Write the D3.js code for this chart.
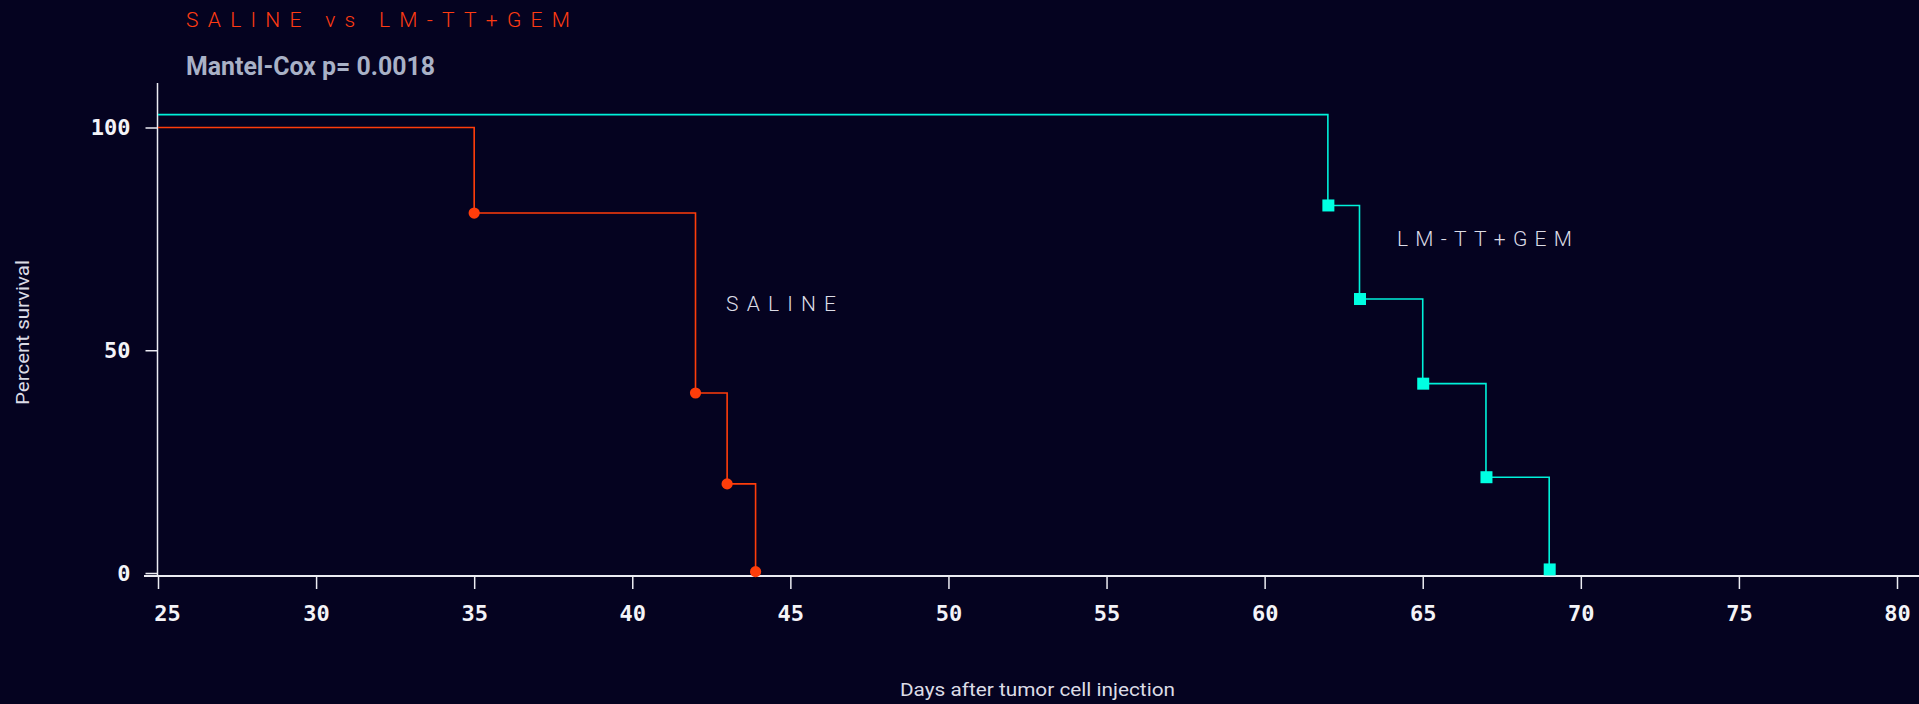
<!DOCTYPE html>
<html>
<head>
<meta charset="utf-8">
<script src="https://cdn.jsdelivr.net/npm/d3@7/dist/d3.min.js"></script>
<style>
  html, body { margin: 0; padding: 0; background: #050320; }
  svg { display: block; }
</style>
</head>
<body>
<svg id="chart" width="1919" height="704"></svg>
<script>
// ---- Data ----
const salineDays = [25, 35, 42, 43, 43.9];
const salineSurvival = [100, 80.8, 40.4, 20, 0.3];
const gemDays = [25, 62, 63, 65, 67, 69];
const gemSurvival = [102.9, 82.5, 61.5, 42.5, 21.5, 0.8];
const xTicks = [25, 30, 35, 40, 45, 50, 55, 60, 65, 70, 75, 80];
const yTicks = [0, 50, 100];
const titleText = "SALINE vs LM-TT+GEM";
const subtitleText = "Mantel-Cox p= 0.0018";
const salineLabel = "SALINE";
const gemLabel = "LM-TT+GEM";
const xTitle = "Days after tumor cell injection";
const yTitle = "Percent survival";

// ---- Styles ----
const bg = "#050320";
const red = "#ff3d0a";
const teal = "#00f2da";
const tealMarker = "#00ffe2";
const axisColor = "#ececf2";

const svg = d3.select("#chart");
svg.append("rect").attr("width", 1919).attr("height", 704).attr("fill", bg);

const x = d3.scaleLinear().domain([25, 80]).range([158, 1897]);
const y = d3.scaleLinear().domain([0, 100]).range([573, 127.5]);
const axisY = 576;

// Y axis
const yAxis = svg.append("g")
  .attr("transform", `translate(${x(25) - 0.5},0)`)
  .call(d3.axisLeft(y).tickValues(yTicks).tickSize(12).tickPadding(15).tickFormat(d3.format("d")));
yAxis.select(".domain").remove();
yAxis.selectAll(".tick line").attr("stroke", axisColor).attr("stroke-width", 1.5);
yAxis.selectAll(".tick text")
  .attr("fill", "#f4f4f8")
  .style("font-family", "'DejaVu Sans Mono', monospace")
  .style("font-weight", "bold")
  .style("font-size", "22px");
svg.append("line")
  .attr("x1", x(25) - 0.5).attr("x2", x(25) - 0.5)
  .attr("y1", 83).attr("y2", axisY)
  .attr("stroke", axisColor).attr("stroke-width", 1.5);

// X axis
const xAxis = svg.append("g")
  .attr("transform", `translate(0,${axisY})`)
  .call(d3.axisBottom(x).tickValues(xTicks).tickSize(13).tickPadding(16).tickFormat(d3.format("d")));
xAxis.select(".domain").remove();
xAxis.selectAll(".tick line").attr("stroke", axisColor).attr("stroke-width", 1.5);
xAxis.selectAll(".tick text")
  .attr("fill", "#f4f4f8")
  .style("font-family", "'DejaVu Sans Mono', monospace")
  .style("font-weight", "bold")
  .style("font-size", "22px")
  .attr("dx", (d, i) => i === 0 ? 9 : 0);
svg.append("line")
  .attr("x1", 144).attr("x2", 1919)
  .attr("y1", axisY).attr("y2", axisY)
  .attr("stroke", axisColor).attr("stroke-width", 2);

// Survival curves
const line = d3.line().x(d => x(d[0])).y(d => y(d[1])).curve(d3.curveStepAfter);
const salinePts = salineDays.map((d, i) => [d, salineSurvival[i]]);
const gemPts = gemDays.map((d, i) => [d, gemSurvival[i]]);

svg.append("path").datum(gemPts).attr("d", line)
  .attr("fill", "none").attr("stroke", teal).attr("stroke-width", 1.6);
svg.append("path").datum(salinePts).attr("d", line)
  .attr("fill", "none").attr("stroke", red).attr("stroke-width", 1.6);

svg.selectAll(".sal-dot").data(salinePts.slice(1)).enter().append("circle")
  .attr("cx", d => x(d[0])).attr("cy", d => y(d[1])).attr("r", 5.6)
  .attr("fill", red);
svg.selectAll(".gem-sq").data(gemPts.slice(1)).enter().append("rect")
  .attr("x", d => x(d[0]) - 5.5).attr("y", d => y(d[1]) - 6)
  .attr("width", 12).attr("height", 12)
  .attr("fill", tealMarker);

// Titles
svg.append("text").text(titleText)
  .attr("x", 186).attr("y", 27)
  .attr("fill", "#ff3b12")
  .attr("textLength", 384).attr("lengthAdjust", "spacing")
  .style("font-family", "Roboto, sans-serif").style("font-weight", 300).style("font-size", "21px");

svg.append("text").text(subtitleText)
  .attr("x", 186).attr("y", 75)
  .attr("fill", "#a9b1c6")
  .attr("textLength", 249).attr("lengthAdjust", "spacingAndGlyphs")
  .style("font-family", "Roboto, sans-serif").style("font-weight", 700).style("font-size", "25px");

// Series labels
svg.append("text").text(salineLabel)
  .attr("x", 726).attr("y", 310.5)
  .attr("fill", "#dcdce6")
  .attr("textLength", 110).attr("lengthAdjust", "spacing")
  .style("font-family", "Roboto, sans-serif").style("font-weight", 300).style("font-size", "21px");
svg.append("text").text(gemLabel)
  .attr("x", 1397).attr("y", 246)
  .attr("fill", "#dcdce6")
  .attr("textLength", 175).attr("lengthAdjust", "spacing")
  .style("font-family", "Roboto, sans-serif").style("font-weight", 300).style("font-size", "21px");

// Axis titles
svg.append("text").text(xTitle)
  .attr("x", 1037.5).attr("y", 696)
  .attr("text-anchor", "middle")
  .attr("fill", "#dcdce6")
  .attr("textLength", 275).attr("lengthAdjust", "spacingAndGlyphs")
  .style("font-family", "Roboto, sans-serif").style("font-weight", 400).style("font-size", "19px");
svg.append("text").text(yTitle)
  .attr("transform", "translate(29,332.5) rotate(-90)")
  .attr("text-anchor", "middle")
  .attr("fill", "#dcdce6")
  .attr("textLength", 145).attr("lengthAdjust", "spacingAndGlyphs")
  .style("font-family", "Roboto, sans-serif").style("font-weight", 400).style("font-size", "19px");
</script>
</body>
</html>
